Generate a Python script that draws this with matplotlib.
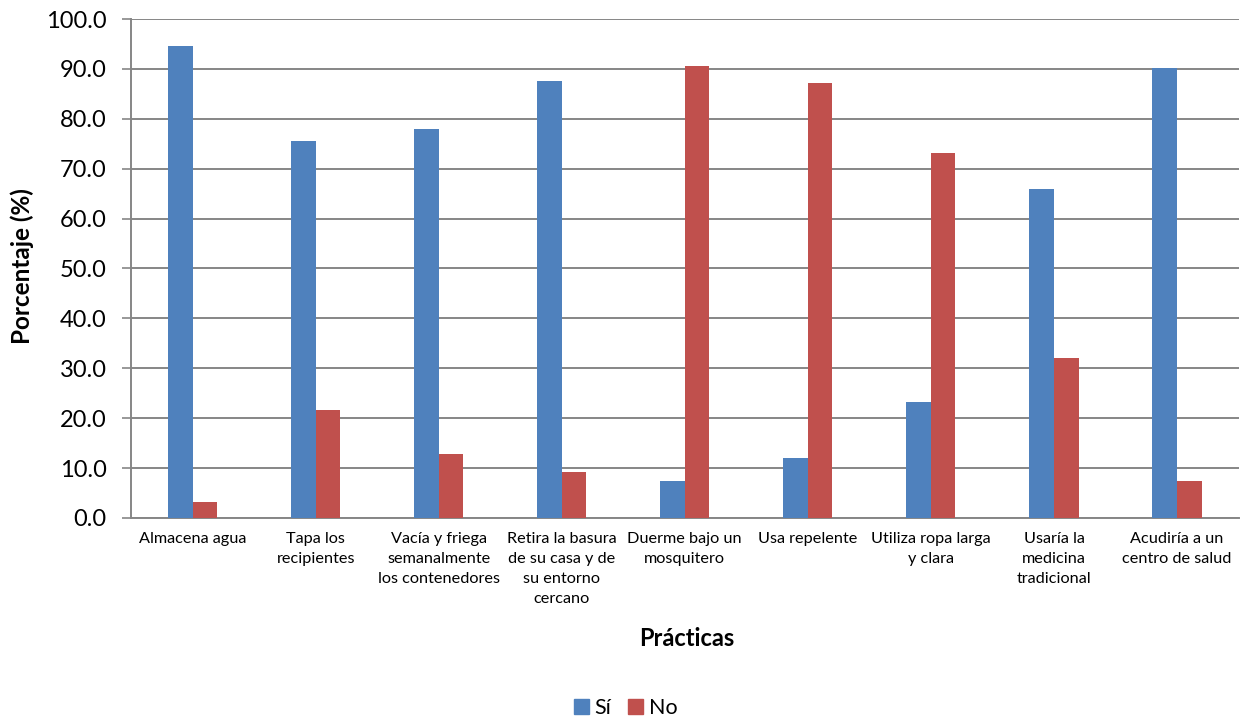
import numpy as np
import matplotlib.pyplot as plt
from matplotlib.patches import Patch

plt.rcParams['font.family'] = ['Lato', 'DejaVu Sans']

# Practices surveyed and share of answers (%)
practicas = [
    'Almacena agua',
    'Tapa los\nrecipientes',
    'Vacía y friega\nsemanalmente\nlos contenedores',
    'Retira la basura\nde su casa y de\nsu entorno\ncercano',
    'Duerme bajo un\nmosquitero',
    'Usa repelente',
    'Utiliza ropa larga\ny clara',
    'Usaría la\nmedicina\ntradicional',
    'Acudiría a un\ncentro de salud',
]
si = [94.5, 75.5, 78.0, 87.5, 7.4, 12.0, 23.3, 65.9, 90.1]
no = [3.2, 21.7, 12.8, 9.2, 90.5, 87.1, 73.1, 32.0, 7.4]

BLUE = '#4F81BD'
RED = '#C0504D'
GRID = '#868686'

fig = plt.figure(figsize=(12.41, 7.2), dpi=100)
ax = fig.add_axes([0.1056, 0.2806, 0.8924, 0.693])

x = np.arange(len(practicas))
w = 0.2
ax.bar(x - w / 2, si, width=w, color=BLUE, zorder=3)
ax.bar(x + w / 2, no, width=w, color=RED, zorder=3)

ax.set_xlim(-0.5, len(practicas) - 0.5)
ax.set_ylim(0, 100)
ax.set_yticks(np.arange(0, 101, 10))
ax.set_yticklabels([f'{v:.1f}' for v in np.arange(0, 101, 10)], fontsize=17)
ax.set_xticks(x)
ax.set_xticklabels(practicas, fontsize=11.7, linespacing=1.55)

ax.yaxis.grid(True, color=GRID, linewidth=1.4, zorder=0)
ax.tick_params(axis='y', length=6.5, width=1.2, color=GRID, pad=11)
ax.tick_params(axis='x', length=0, pad=10)
for side in ('top', 'right'):
    ax.spines[side].set_visible(False)
for side in ('left', 'bottom'):
    ax.spines[side].set_color(GRID)
    ax.spines[side].set_linewidth(1.4)

fig.text(0.018, 1 - 266 / 720, 'Porcentaje (%)', rotation=90,
         ha='center', va='center', fontsize=17.5, fontweight='bold')
fig.text(0.553, 1 - 638 / 720, 'Prácticas', ha='center', va='center',
         fontsize=17, fontweight='bold')

handles = [Patch(color=BLUE, label='Sí'), Patch(color=RED, label='No')]
fig.legend(handles=handles, loc='center', bbox_to_anchor=(0.504, 1 - 708 / 720),
           ncol=2, frameon=False, fontsize=15.5, handlelength=0.7,
           handleheight=0.7, handletextpad=0.25, columnspacing=0.8)

fig.savefig('out.png', dpi=100)
